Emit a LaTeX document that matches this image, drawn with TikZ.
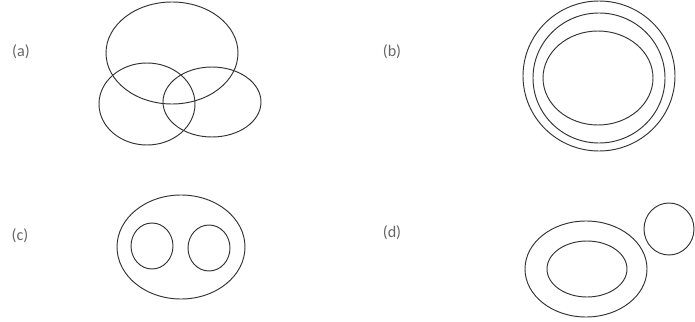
\documentclass[tikz,border=0pt]{standalone}
\usepackage{fontspec}
\setmainfont{Carlito}
\usetikzlibrary{shapes.geometric}
\tikzset{
  ring/.style={draw=black!80, line width=1.35pt, ellipse, inner sep=0pt},
  tag/.style={text=black!60, font=\fontsize{23}{26}\selectfont}
}
\begin{document}
\begin{tikzpicture}[x=0.5mm,y=-0.5mm]
\useasboundingbox (0,0) rectangle (695,322);
% (a)
\node[tag] (la) at (21,52) {(a)};
\node[ring, minimum width=66mm, minimum height=51mm] (a1) at (172,53) {};
\node[ring, minimum width=48mm, minimum height=41mm] (a2) at (147,104) {};
\node[ring, minimum width=49mm, minimum height=35mm] (a3) at (212,102) {};
% (b)
\node[tag] (lb) at (392,52) {(b)};
\node[ring, minimum width=76mm, minimum height=75mm] (b1) at (599,76) {};
\node[ring, minimum width=66mm, minimum height=65mm] (b2) at (599,78) {};
\node[ring, minimum width=55mm, minimum height=47mm] (b3) at (598,78) {};
% (c)
\node[tag] (lc) at (20,236) {(c)};
\node[ring, minimum width=64mm, minimum height=52mm] (c1) at (181,247) {};
\node[ring, minimum width=21mm, minimum height=23mm] (c2) at (152,246) {};
\node[ring, minimum width=21mm, minimum height=23mm] (c3) at (209,248) {};
% (d)
\node[tag] (ld) at (392,233) {(d)};
\node[ring, minimum width=61mm, minimum height=48mm] (d1) at (586,269) {};
\node[ring, minimum width=40mm, minimum height=28mm] (d2) at (587,269) {};
\node[ring, minimum width=25mm, minimum height=26mm] (d3) at (669,229) {};
\end{tikzpicture}
\end{document}
